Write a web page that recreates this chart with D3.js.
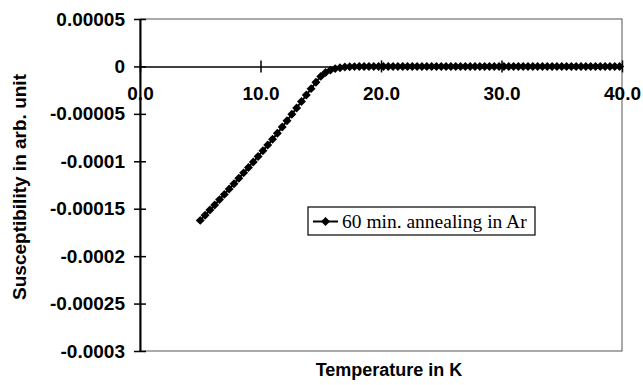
<!DOCTYPE html>
<html>
<head>
<meta charset="utf-8">
<script src="https://cdn.jsdelivr.net/npm/d3@7"></script>
<style>
  body { margin: 0; background: #fff; }
  svg { display: block; }
</style>
</head>
<body>
<svg></svg>
<script>
// temperature (K) and susceptibility (arb. unit)
var temps = [
  5.0, 5.4, 5.8, 6.2, 6.6, 7.0, 7.4, 7.8, 8.2, 8.6,
  9.0, 9.4, 9.8, 10.2, 10.6, 11.0, 11.4, 11.8, 12.2, 12.6,
  13.0, 13.4, 13.8, 14.2, 14.6, 15.0, 15.4, 15.8, 16.2, 16.6,
  17.0, 17.4, 17.8, 18.2, 18.6, 19.0, 19.4, 19.8, 20.2, 20.6,
  21.0, 21.4, 21.8, 22.2, 22.6, 23.0, 23.4, 23.8, 24.2, 24.6,
  25.0, 25.4, 25.8, 26.2, 26.6, 27.0, 27.4, 27.8, 28.2, 28.6,
  29.0, 29.4, 29.8, 30.2, 30.6, 31.0, 31.4, 31.8, 32.2, 32.6,
  33.0, 33.4, 33.8, 34.2, 34.6, 35.0, 35.4, 35.8, 36.2, 36.6,
  37.0, 37.4, 37.8, 38.2, 38.6, 39.0, 39.4, 39.8
];
var chi = [
  -0.0001623, -0.0001569, -0.0001514, -0.0001460, -0.0001404, -0.0001349, -0.0001293, -0.0001236, -0.0001179, -0.0001122,
  -0.0001065, -0.0001007, -0.0000949, -0.0000889, -0.0000829, -0.0000768, -0.0000704, -0.0000639, -0.0000572, -0.0000505,
  -0.0000438, -0.0000370, -0.0000302, -0.0000234, -0.0000166, -0.0000105, -0.0000063, -0.0000039, -0.0000023, -0.0000013,
  -0.0000007, -0.0000004, -0.0000002, -0.0000001, 0, 0, 0, 0, 0, 0,
  0, 0, 0, 0, 0, 0, 0, 0, 0, 0,
  0, 0, 0, 0, 0, 0, 0, 0, 0, 0,
  0, 0, 0, 0, 0, 0, 0, 0, 0, 0,
  0, 0, 0, 0, 0, 0, 0, 0, 0, 0,
  0, 0, 0, 0, 0, 0, 0, 0
];
var xTicks = [0, 10, 20, 30, 40];
var xTickLabels = ['0.0', '10.0', '20.0', '30.0', '40.0'];
var yTicks = [0.00005, 0, -0.00005, -0.0001, -0.00015, -0.0002, -0.00025, -0.0003];
var yTickLabels = ['0.00005', '0', '-0.00005', '-0.0001', '-0.00015', '-0.0002', '-0.00025', '-0.0003'];
var seriesName = '60 min. annealing in Ar';

var width = 643;
var height = 385;
var plotL = 140, plotR = 622, plotT = 19, plotB = 351;
var sansFont = '"Liberation Sans", Arial, sans-serif';

var svg = d3.select('svg')
    .attr('width', width)
    .attr('height', height);

var xScale = d3.scaleLinear()
    .domain([0, 40])
    .range([plotL, plotR]);
var yScale = d3.scaleLinear()
    .domain([-0.0003, 0.00005])
    .range([plotB, plotT]);

var data = temps.map((t, i) => ({ t: t, v: chi[i] }));

// plot frame
svg.append('rect')
    .attr('x', plotL)
    .attr('y', plotT)
    .attr('width', plotR - plotL)
    .attr('height', plotB - plotT)
    .attr('fill', 'none')
    .attr('stroke', '#555')
    .attr('stroke-width', 1);

// y axis on the left edge, ticks crossing the line
var yAxis = d3.axisLeft(yScale)
    .tickValues(yTicks)
    .tickSizeInner(6)
    .tickSizeOuter(0)
    .tickFormat((d, i) => yTickLabels[i]);
var gy = svg.append('g')
    .attr('transform', `translate(${plotL},0)`)
    .call(yAxis);
gy.select('.domain').attr('stroke', '#000').attr('stroke-width', 2);
gy.selectAll('.tick line')
    .attr('x1', -6)
    .attr('x2', 6)
    .attr('stroke', '#000')
    .attr('stroke-width', 1.5);
gy.selectAll('.tick text')
    .attr('x', -15)
    .attr('font-family', sansFont)
    .attr('font-weight', 'bold')
    .attr('font-size', 19)
    .attr('fill', '#000');

// x axis crossing at zero
var xAxis = d3.axisBottom(xScale)
    .tickValues(xTicks)
    .tickSizeInner(6)
    .tickSizeOuter(0)
    .tickFormat((d, i) => xTickLabels[i]);
var gx = svg.append('g')
    .attr('transform', `translate(0,${yScale(0)})`)
    .call(xAxis);
gx.select('.domain').attr('stroke', '#000').attr('stroke-width', 1.5);
gx.selectAll('.tick line')
    .attr('y1', -6)
    .attr('y2', 6)
    .attr('stroke', '#000')
    .attr('stroke-width', 1.5);
gx.selectAll('.tick text')
    .attr('y', 20)
    .attr('font-family', sansFont)
    .attr('font-weight', 'bold')
    .attr('font-size', 19)
    .attr('fill', '#000');

// series
var line = d3.line()
    .x(d => xScale(d.t))
    .y(d => yScale(d.v));
svg.append('path')
    .datum(data)
    .attr('d', line)
    .attr('fill', 'none')
    .attr('stroke', '#000')
    .attr('stroke-width', 2);

var diamond = d3.symbol().type(d3.symbolSquare).size(40);
svg.selectAll('.pt')
    .data(data)
    .enter().append('path')
    .attr('class', 'pt')
    .attr('d', diamond)
    .attr('transform', d => `translate(${xScale(d.t)},${yScale(d.v)}) rotate(45)`)
    .attr('fill', '#000');

// legend
var lg = svg.append('g');
lg.append('rect')
    .attr('x', 308)
    .attr('y', 207)
    .attr('width', 227)
    .attr('height', 28)
    .attr('fill', '#fff')
    .attr('stroke', '#000')
    .attr('stroke-width', 1.2);
lg.append('line')
    .attr('x1', 313)
    .attr('x2', 338)
    .attr('y1', 221.5)
    .attr('y2', 221.5)
    .attr('stroke', '#000')
    .attr('stroke-width', 2);
lg.append('path')
    .attr('d', diamond)
    .attr('transform', 'translate(325.5,221.5) rotate(45)')
    .attr('fill', '#000');
lg.append('text')
    .attr('x', 342)
    .attr('y', 228)
    .attr('font-family', '"Liberation Serif", "Times New Roman", serif')
    .attr('font-size', 19.5)
    .attr('fill', '#000')
    .text(seriesName);

// axis titles
svg.append('text')
    .attr('x', 389)
    .attr('y', 376)
    .attr('text-anchor', 'middle')
    .attr('font-family', sansFont)
    .attr('font-weight', 'bold')
    .attr('font-size', 18)
    .attr('fill', '#000')
    .text('Temperature in K');
svg.append('text')
    .attr('transform', 'translate(26,187) rotate(-90)')
    .attr('text-anchor', 'middle')
    .attr('font-family', sansFont)
    .attr('font-weight', 'bold')
    .attr('font-size', 19)
    .attr('fill', '#000')
    .text('Susceptibility in arb. unit');
</script>
</body>
</html>
